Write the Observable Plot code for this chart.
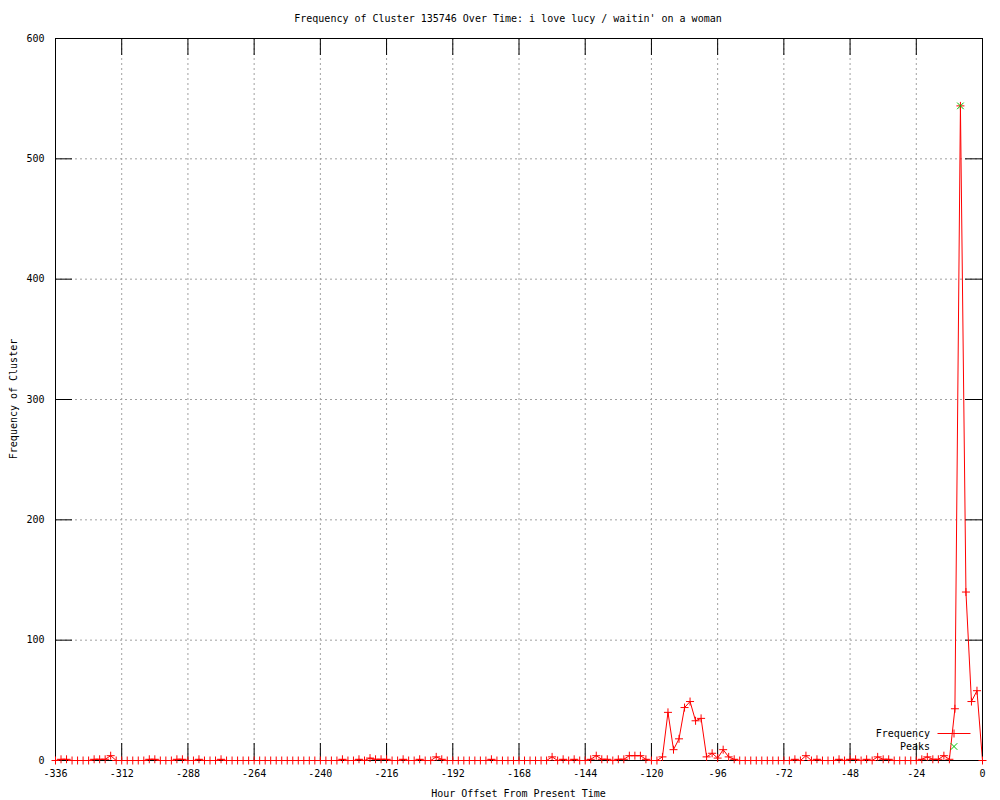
<!DOCTYPE html>
<html>
<head>
<meta charset="utf-8">
<script src="https://cdn.jsdelivr.net/npm/d3@7"></script>
<script src="https://cdn.jsdelivr.net/npm/@observablehq/plot@0.6"></script>
<style>
  html, body { margin: 0; padding: 0; background: #ffffff; }
  #chart svg { display: block; }
</style>
</head>
<body>
<div id="chart"></div>
<script>
// ---- Chart text ----
const title = "Frequency of Cluster 135746 Over Time: i love lucy / waitin' on a woman";
const xLabel = "Hour Offset From Present Time";
const yLabel = "Frequency of Cluster";
const seriesNames = ["Frequency", "Peaks"];

// ---- Data: one value every 2 hours, from -336 h to 0 h ----
const startHour = -336;
const stepHours = 2;
const frequency = [
  0, 1, 1, 0, 0, 0, 0, 1, 1, 1, 4, 0,        // -336 .. -314
  0, 0, 0, 0, 0, 1, 1, 0, 0, 0, 1, 1,        // -312 .. -290
  0, 0, 1, 0, 0, 0, 1, 0, 0, 0, 0, 0,        // -288 .. -266
  0, 0, 0, 0, 0, 0, 0, 0, 0, 0, 0, 0,        // -264 .. -242
  0, 0, 0, 0, 1, 0, 0, 1, 0, 2, 1, 1,        // -240 .. -218
  1, 0, 0, 1, 0, 0, 1, 0, 0, 3, 1, 0,        // -216 .. -194
  0, 0, 0, 0, 0, 0, 0, 1, 0, 0, 0, 0,        // -192 .. -170
  0, 0, 0, 0, 0, 0, 3, 0, 1, 0, 1, 0,        // -168 .. -146
  0, 1, 4, 1, 1, 0, 1, 1, 4, 4, 4, 1,        // -144 .. -122
  0, 0, 3, 40, 9, 18, 44, 49, 33, 35, 3, 6,  // -120 .. -98
  2, 9, 3, 1, 0, 0, 0, 0, 0, 0, 0, 0,        // -96 .. -74
  0, 0, 1, 0, 4, 0, 1, 0, 0, 0, 1, 0,        // -72 .. -50
  1, 1, 0, 1, 0, 3, 1, 1, 0, 0, 0, 0,        // -48 .. -26
  0, 1, 3, 1, 1, 4, 1, 43, 544, 140, 49, 58, // -24 .. -2
  0                                          // 0
];
const peakHours = [-8];
const peakValues = [544];

// ---- Axes ----
const xTicks = [-336, -312, -288, -264, -240, -216, -192, -168, -144, -120, -96, -72, -48, -24, 0];
const yTicks = [0, 100, 200, 300, 400, 500, 600];

// ---- Tables built from the arrays ----
const data = frequency.map((v, i) => ({hour: startHour + i * stepHours, value: v}));
const peaks = peakHours.map((h, i) => ({hour: h, value: peakValues[i]}));

// ---- Styles ----
const W = 1000, H = 800;
const mL = 55, mR = 18, mT = 38, mB = 40;
const frameW = W - mL - mR, frameH = H - mT - mB;
const tickLen = 17;
const red = "#ff0000", green = "#00c000", gridGray = "#a0a0a0";
const fontFamily = '"DejaVu Sans Mono", "Liberation Mono", monospace';

const plusSym = {draw(ctx) { const r = 4; ctx.moveTo(-r, 0); ctx.lineTo(r, 0); ctx.moveTo(0, -r); ctx.lineTo(0, r); }};
const timesSym = {draw(ctx) { const r = 3.3; ctx.moveTo(-r, -r); ctx.lineTo(r, r); ctx.moveTo(-r, r); ctx.lineTo(r, -r); }};

const chart = Plot.plot({
  width: W,
  height: H,
  marginLeft: mL,
  marginRight: mR,
  marginTop: mT,
  marginBottom: mB,
  style: {fontFamily, fontSize: "10px", background: "#ffffff", color: "#000000"},
  x: {domain: [xTicks[0], xTicks[xTicks.length - 1]]},
  y: {domain: [yTicks[0], yTicks[yTicks.length - 1]]},
  marks: [
    // dotted grid
    Plot.ruleX(xTicks, {stroke: gridGray, strokeDasharray: "2,3"}),
    Plot.ruleY(yTicks, {stroke: gridGray, strokeDasharray: "2,3"}),
    // inward mirrored ticks
    Plot.ruleX(xTicks, {stroke: "#000", insetTop: frameH - tickLen}),
    Plot.ruleX(xTicks, {stroke: "#000", insetBottom: frameH - tickLen}),
    Plot.ruleY(yTicks, {stroke: "#000", insetRight: frameW - tickLen}),
    Plot.ruleY(yTicks, {stroke: "#000", insetLeft: frameW - tickLen}),
    // data line
    Plot.line(data, {x: "hour", y: "value", stroke: red, strokeWidth: 1}),
    Plot.frame({stroke: "#000"}),
    Plot.dot(data, {x: "hour", y: "value", symbol: plusSym, stroke: red, fill: "none", strokeWidth: 1}),
    Plot.dot(peaks, {x: "hour", y: "value", symbol: timesSym, stroke: green, fill: "none", strokeWidth: 1}),
    // tick labels
    Plot.axisX({ticks: xTicks, tickSize: 0, tickPadding: 9, tickFormat: d => String(d), label: null}),
    Plot.axisY({ticks: yTicks, tickSize: 0, tickPadding: 11, tickFormat: d => String(d), label: null})
  ]
});

document.getElementById("chart").appendChild(chart);

// ---- Title, axis labels and key ----
const svg = d3.select(chart);
const txt = (x, y, s, anchor) => svg.append("text")
  .attr("x", x).attr("y", y)
  .attr("text-anchor", anchor)
  .attr("font-family", fontFamily).attr("font-size", 10).attr("fill", "#000")
  .text(s);

txt(508, 22, title, "middle");
txt(mL + frameW / 2, 797, xLabel, "middle");
svg.append("text")
  .attr("transform", `translate(17,${mT + frameH / 2}) rotate(-90)`)
  .attr("text-anchor", "middle")
  .attr("font-family", fontFamily).attr("font-size", 10).attr("fill", "#000")
  .text(yLabel);

// key (bottom right, inside the frame)
const keyTextX = W - mR - 52;
const keySampleX0 = W - mR - 45, keySampleX1 = W - mR - 12;
const keySampleMid = (keySampleX0 + keySampleX1) / 2;
const keyY1 = H - mB - 27, keyY2 = H - mB - 14;
txt(keyTextX, keyY1 + 3.5, seriesNames[0], "end");
txt(keyTextX, keyY2 + 3.5, seriesNames[1], "end");
const key = svg.append("g").attr("transform", "translate(0.5,0.5)").attr("fill", "none");
key.append("line").attr("x1", keySampleX0).attr("x2", keySampleX1).attr("y1", keyY1).attr("y2", keyY1).attr("stroke", red);
key.append("path").attr("d", `M${keySampleMid - 4},${keyY1}h8M${keySampleMid},${keyY1 - 4}v8`).attr("stroke", red);
key.append("path").attr("d", `M${keySampleMid - 3.3},${keyY2 - 3.3}l6.6,6.6M${keySampleMid - 3.3},${keyY2 + 3.3}l6.6,-6.6`).attr("stroke", green);
</script>
</body>
</html>
